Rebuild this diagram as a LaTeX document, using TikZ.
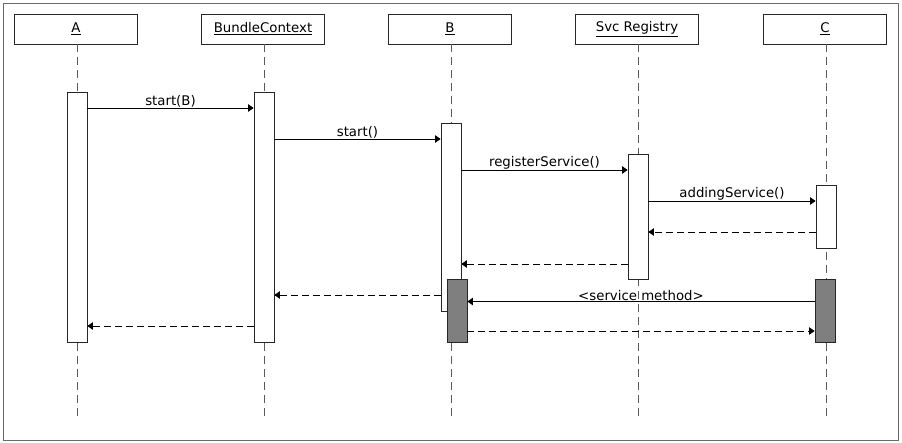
\documentclass[tikz,border=0pt]{standalone}
\usepackage{fontspec}
\setmainfont{DejaVu Sans}
\usetikzlibrary{arrows.meta}
\definecolor{framegray}{HTML}{6A6A6A}
\definecolor{linegray}{HTML}{5A5A5A}
\definecolor{actgray}{HTML}{7F7F7F}
\tikzset{
  head/.style={draw=black!85, line width=0.8pt, minimum width=123pt, minimum height=30pt, inner sep=0pt, font=\fontsize{13.3}{15}\selectfont, fill=white},
  life/.style={draw=linegray, line width=0.9pt, dash pattern=on 8pt off 5pt},
  actbox/.style={draw=black!85, line width=0.8pt, fill=white, minimum width=20pt, inner sep=0pt, anchor=north},
  actdark/.style={actbox, fill=actgray},
  msg/.style={draw=black, line width=0.7pt, -{Triangle[length=5.5pt,width=7.5pt]}},
  ret/.style={msg, dash pattern=on 7pt off 4pt},
  lbl/.style={font=\fontsize{13.3}{15}\selectfont, inner sep=0.8pt, anchor=south}
}
\begin{document}
\begin{tikzpicture}[x=1pt,y=-1pt]
\useasboundingbox (0,0) rectangle (902,442);
\draw[draw=framegray, line width=0.9pt] (3,3) rectangle (898,440);

% headers
\node[head] (hA) at (76,29) {\underline{A}};
\node[head] (hBC) at (263,29) {\underline{BundleContext}};
\node[head] (hB) at (450,29) {\underline{B}};
\node[head] (hS) at (637,29) {\underline{Svc Registry}};
\node[head] (hC) at (825,29) {\underline{C}};

% lifeline ends
\coordinate (eA) at (77,418);
\coordinate (eBC) at (264,418);
\coordinate (eB) at (451,418);
\coordinate (eS) at (638,418);
\coordinate (eC) at (826,418);
\draw[life] (hA.south -| eA) -- (eA);
\draw[life] (hBC.south -| eBC) -- (eBC);
\draw[life] (hB.south -| eB) -- (eB);
\draw[life] (hS.south -| eS) -- (eS);
\draw[life] (hC.south -| eC) -- (eC);

% activations
\node[actbox, minimum height=250pt] (aA) at (77,92) {};
\node[actbox, minimum height=250pt] (aBC) at (264,92) {};
\node[actbox, minimum height=188pt] (aB) at (451,123) {};
\node[actbox, minimum height=125pt] (aS) at (638,154) {};
\node[actbox, minimum height=63pt] (aC) at (826,185) {};
\node[actdark, minimum height=63pt] (dB) at (457,279) {};
\node[actdark, minimum height=63pt] (dC) at (825,279) {};

% messages
\draw[msg] (aA.east |- 0,108) -- node[lbl]{start(B)} (aBC.west |- 0,108);
\draw[msg] (aBC.east |- 0,139) -- node[lbl]{start()} (aB.west |- 0,139);
\draw[msg] (aB.east |- 0,170) -- node[lbl]{registerService()} (aS.west |- 0,170);
\draw[msg] (aS.east |- 0,201) -- node[lbl]{addingService()} (aC.west |- 0,201);
\draw[ret] (aC.west |- 0,232) -- (aS.east |- 0,232);
\draw[ret] (aS.west |- 0,264) -- (aB.east |- 0,264);
\draw[ret] (aB.west |- 0,295) -- (aBC.east |- 0,295);
\draw[ret] (aBC.west |- 0,326) -- (aA.east |- 0,326);
\draw[msg] (dC.west |- 0,301.5) -- node[lbl]{<service method>} (dB.east |- 0,301.5);
\draw[ret] (dB.east |- 0,331) -- (dC.west |- 0,331);
\end{tikzpicture}
\end{document}
